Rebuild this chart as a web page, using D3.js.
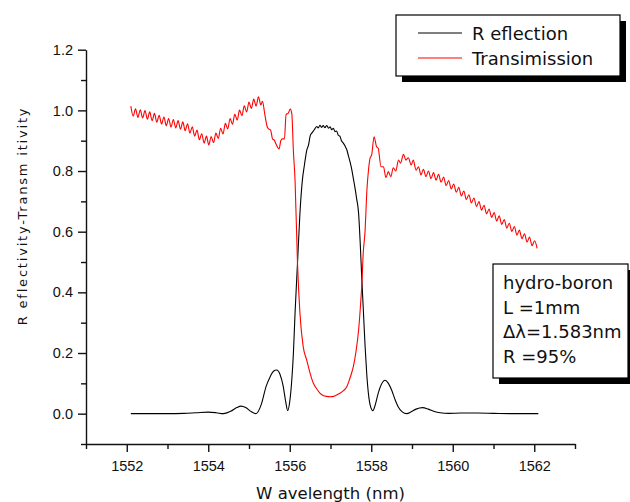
<!DOCTYPE html>
<html>
<head>
<meta charset="utf-8">
<script src="https://cdn.jsdelivr.net/npm/d3@7"></script>
<style>
  body { margin: 0; background: #fff; }
  .tick text { font-family: "Liberation Sans", Arial, sans-serif; font-size: 14.5px; fill: #111; }
  .lbl { font-family: "DejaVu Sans", sans-serif; fill: #111; }
</style>
</head>
<body>
<div id="chart"></div>
<script>
// wavelength / reflection pairs
const reflection = [
  [1552.10, 0.000], [1552.60, 0.000], [1553.00, 0.000], [1553.40, 0.001], [1553.70, 0.003],
  [1554.00, 0.005], [1554.20, 0.003], [1554.37, 0.000], [1554.55, 0.008], [1554.70, 0.020],
  [1554.80, 0.025], [1554.92, 0.020], [1555.05, 0.007], [1555.17, 0.000], [1555.30, 0.030],
  [1555.42, 0.090], [1555.52, 0.122], [1555.60, 0.140], [1555.68, 0.144], [1555.76, 0.130],
  [1555.84, 0.090], [1555.90, 0.040], [1555.95, 0.010], [1556.00, 0.040], [1556.05, 0.111],
  [1556.09, 0.200], [1556.13, 0.331], [1556.19, 0.496], [1556.25, 0.661], [1556.31, 0.770],
  [1556.36, 0.820], [1556.42, 0.870], [1556.46, 0.885], [1556.50, 0.915], [1556.54, 0.925],
  [1556.58, 0.932], [1556.62, 0.940], [1556.66, 0.947], [1556.70, 0.942], [1556.74, 0.951],
  [1556.78, 0.944], [1556.82, 0.950], [1556.86, 0.943], [1556.91, 0.950], [1556.95, 0.941],
  [1556.99, 0.946], [1557.03, 0.936], [1557.07, 0.941], [1557.11, 0.930], [1557.15, 0.932],
  [1557.19, 0.918], [1557.23, 0.915], [1557.27, 0.900], [1557.31, 0.893], [1557.36, 0.882],
  [1557.40, 0.870], [1557.44, 0.850], [1557.48, 0.830], [1557.52, 0.806], [1557.56, 0.776],
  [1557.60, 0.745], [1557.64, 0.710], [1557.69, 0.660], [1557.73, 0.560], [1557.77, 0.440],
  [1557.81, 0.330], [1557.85, 0.220], [1557.89, 0.130], [1557.93, 0.067], [1557.98, 0.025],
  [1558.04, 0.010], [1558.10, 0.030], [1558.17, 0.067], [1558.25, 0.097], [1558.34, 0.110],
  [1558.42, 0.100], [1558.50, 0.078], [1558.58, 0.048], [1558.66, 0.023], [1558.76, 0.006],
  [1558.87, 0.000], [1558.98, 0.006], [1559.10, 0.015], [1559.26, 0.020], [1559.40, 0.015],
  [1559.55, 0.007], [1559.69, 0.003], [1559.90, 0.001], [1560.20, 0.002], [1560.60, 0.002],
  [1561.00, 0.001], [1561.50, 0.000], [1562.10, 0.000]
];

// wavelength / transmission pairs
const transmission = [
  [1552.100, 1.014], [1552.158, 0.981], [1552.216, 1.005], [1552.274, 0.977], [1552.332, 1.002],
  [1552.390, 0.975], [1552.448, 0.999], [1552.506, 0.971], [1552.564, 0.995], [1552.622, 0.966],
  [1552.680, 0.990], [1552.738, 0.961], [1552.796, 0.984], [1552.854, 0.955], [1552.912, 0.978],
  [1552.970, 0.949], [1553.028, 0.973], [1553.086, 0.945], [1553.144, 0.970], [1553.202, 0.942],
  [1553.260, 0.966], [1553.318, 0.938], [1553.376, 0.962], [1553.434, 0.933], [1553.492, 0.956],
  [1553.550, 0.925], [1553.608, 0.946], [1553.666, 0.915], [1553.724, 0.935], [1553.782, 0.903],
  [1553.840, 0.923], [1553.898, 0.892], [1553.956, 0.915], [1554.014, 0.886], [1554.072, 0.914],
  [1554.130, 0.893], [1554.188, 0.925], [1554.246, 0.907], [1554.304, 0.941], [1554.362, 0.922],
  [1554.420, 0.957], [1554.478, 0.939], [1554.536, 0.973], [1554.594, 0.954], [1554.652, 0.987],
  [1554.710, 0.968], [1554.768, 1.001], [1554.826, 0.982], [1554.884, 1.015], [1554.942, 0.995],
  [1555.000, 1.027], [1555.058, 1.006], [1555.116, 1.037], [1555.174, 1.014], [1555.232, 1.045],
  [1555.290, 1.018], [1555.330, 1.030], [1555.390, 0.985], [1555.450, 0.945], [1555.490, 0.938],
  [1555.530, 0.935], [1555.580, 0.905], [1555.620, 0.902], [1555.660, 0.890], [1555.740, 0.873],
  [1555.780, 0.900], [1555.820, 0.906], [1555.870, 0.906], [1555.910, 0.987], [1555.960, 0.990],
  [1556.010, 1.004], [1556.050, 0.990], [1556.090, 0.864], [1556.130, 0.770], [1556.190, 0.496],
  [1556.250, 0.331], [1556.330, 0.221], [1556.420, 0.175], [1556.500, 0.133], [1556.580, 0.100],
  [1556.660, 0.082], [1556.740, 0.068], [1556.820, 0.060], [1556.900, 0.057], [1556.990, 0.056],
  [1557.080, 0.057], [1557.160, 0.062], [1557.240, 0.068], [1557.310, 0.075], [1557.400, 0.089],
  [1557.460, 0.110], [1557.520, 0.135], [1557.560, 0.155], [1557.620, 0.200], [1557.690, 0.276],
  [1557.730, 0.345], [1557.770, 0.430], [1557.800, 0.523], [1557.850, 0.606], [1557.890, 0.730],
  [1557.930, 0.800], [1557.970, 0.842], [1558.010, 0.853], [1558.070, 0.913], [1558.130, 0.880],
  [1558.170, 0.875], [1558.240, 0.814], [1558.300, 0.814], [1558.360, 0.778], [1558.420, 0.798],
  [1558.480, 0.781], [1558.540, 0.811], [1558.600, 0.800], [1558.670, 0.836], [1558.720, 0.826],
  [1558.790, 0.855], [1558.850, 0.836], [1558.910, 0.844], [1558.980, 0.820], [1559.030, 0.836],
  [1559.100, 0.803], [1559.160, 0.814], [1559.220, 0.787], [1559.280, 0.806], [1559.342, 0.781],
  [1559.404, 0.800], [1559.466, 0.775], [1559.528, 0.795], [1559.590, 0.770], [1559.652, 0.789],
  [1559.714, 0.763], [1559.776, 0.780], [1559.838, 0.752], [1559.900, 0.769], [1559.962, 0.741],
  [1560.024, 0.757], [1560.086, 0.730], [1560.148, 0.746], [1560.210, 0.718], [1560.272, 0.734],
  [1560.334, 0.706], [1560.396, 0.722], [1560.458, 0.695], [1560.520, 0.711], [1560.582, 0.683],
  [1560.644, 0.699], [1560.706, 0.671], [1560.768, 0.687], [1560.830, 0.659], [1560.892, 0.675],
  [1560.954, 0.647], [1561.016, 0.663], [1561.078, 0.635], [1561.140, 0.652], [1561.202, 0.624],
  [1561.264, 0.640], [1561.326, 0.612], [1561.388, 0.628], [1561.450, 0.601], [1561.512, 0.617],
  [1561.574, 0.589], [1561.636, 0.605], [1561.698, 0.577], [1561.760, 0.593], [1561.822, 0.566],
  [1561.884, 0.582], [1561.946, 0.554], [1562.008, 0.570], [1562.070, 0.545]
];

const xMajor = [1552, 1554, 1556, 1558, 1560, 1562];
const xMinor = [1551, 1553, 1555, 1557, 1559, 1561, 1563];
const yMajor = [0.0, 0.2, 0.4, 0.6, 0.8, 1.0, 1.2];
const yMinor = [-0.1, 0.1, 0.3, 0.5, 0.7, 0.9, 1.1];

const seriesNames = ["R eflection", "Transimission"];
const seriesColors = ["#000000", "#ff0000"];
const noteLines = ["hydro-boron", "L =1mm", "\u0394\u03bb=1.583nm", "R =95%"];

const W = 630, H = 502;

const svg = d3.select("#chart").append("svg")
  .attr("width", W)
  .attr("height", H);

const x = d3.scaleLinear().domain([1551, 1563]).range([86, 575]);
const y = d3.scaleLinear().domain([-0.1, 1.2]).range([444, 49.7]);

// minor ticks first, so the major axis draws on top
svg.append("g")
  .attr("transform", `translate(0,${y(-0.1)})`)
  .call(d3.axisBottom(x).tickValues(xMinor).tickSize(5).tickSizeOuter(0).tickFormat(""))
  .call(g => g.select(".domain").remove());

svg.append("g")
  .attr("transform", `translate(${x(1551)},0)`)
  .call(d3.axisLeft(y).tickValues(yMinor).tickSize(5).tickSizeOuter(0).tickFormat(""))
  .call(g => g.select(".domain").remove());

const xAxis = svg.append("g")
  .attr("transform", `translate(0,${y(-0.1)})`)
  .call(d3.axisBottom(x).tickValues(xMajor).tickSize(8).tickSizeOuter(0).tickPadding(9).tickFormat(d3.format("d")));

const yAxis = svg.append("g")
  .attr("transform", `translate(${x(1551)},0)`)
  .call(d3.axisLeft(y).tickValues(yMajor).tickSize(8).tickSizeOuter(0).tickPadding(5).tickFormat(d3.format(".1f")));

svg.selectAll(".domain, .tick line").attr("stroke", "#111").attr("stroke-width", 1.4);

// curves
const line = d3.line()
  .x(d => x(d[0]))
  .y(d => y(d[1]))
  .curve(d3.curveMonotoneX);

svg.append("path")
  .datum(reflection)
  .attr("fill", "none")
  .attr("stroke", seriesColors[0])
  .attr("stroke-width", 1.1)
  .attr("d", line);

svg.append("path")
  .datum(transmission)
  .attr("fill", "none")
  .attr("stroke", seriesColors[1])
  .attr("stroke-width", 1.1)
  .attr("d", line);

// axis titles
svg.append("text")
  .attr("class", "lbl")
  .attr("x", (x(1551) + x(1563)) / 2)
  .attr("y", 499)
  .attr("text-anchor", "middle")
  .style("font-size", "16.5px")
  .text("W avelength (nm)");

svg.append("text")
  .attr("class", "lbl")
  .attr("transform", "translate(27,216) rotate(-90)")
  .attr("text-anchor", "middle")
  .style("font-size", "13px")
  .style("letter-spacing", "1.8px")
  .text("R eflectivity-Transm itivity");

// legend box with drop shadow
const legend = svg.append("g").attr("transform", "translate(396,15)");
legend.append("rect").attr("x", 6).attr("y", 6).attr("width", 224).attr("height", 61).attr("fill", "#000");
legend.append("rect").attr("width", 224).attr("height", 61).attr("fill", "#fff").attr("stroke", "#000").attr("stroke-width", 1.2);

const items = legend.selectAll(".item")
  .data(seriesNames)
  .enter()
  .append("g")
  .attr("transform", (d, i) => `translate(0, ${18 + i * 25})`);

items.append("line")
  .attr("x1", 22).attr("x2", 66)
  .attr("y1", 0).attr("y2", 0)
  .attr("stroke", (d, i) => seriesColors[i])
  .attr("stroke-width", 1.1);

items.append("text")
  .attr("class", "lbl")
  .attr("x", 76)
  .attr("y", 7)
  .style("font-size", "18px")
  .text(d => d);

// parameter note box
const note = svg.append("g").attr("transform", "translate(493,264)");
note.append("rect").attr("x", 6).attr("y", 6).attr("width", 135).attr("height", 114).attr("fill", "#000");
note.append("rect").attr("width", 135).attr("height", 114).attr("fill", "#fff").attr("stroke", "#000").attr("stroke-width", 1.2);

note.selectAll("text")
  .data(noteLines)
  .enter()
  .append("text")
  .attr("class", "lbl")
  .attr("x", 10)
  .attr("y", (d, i) => 25 + i * 24.6)
  .style("font-size", "18px")
  .text(d => d);
</script>
</body>
</html>
